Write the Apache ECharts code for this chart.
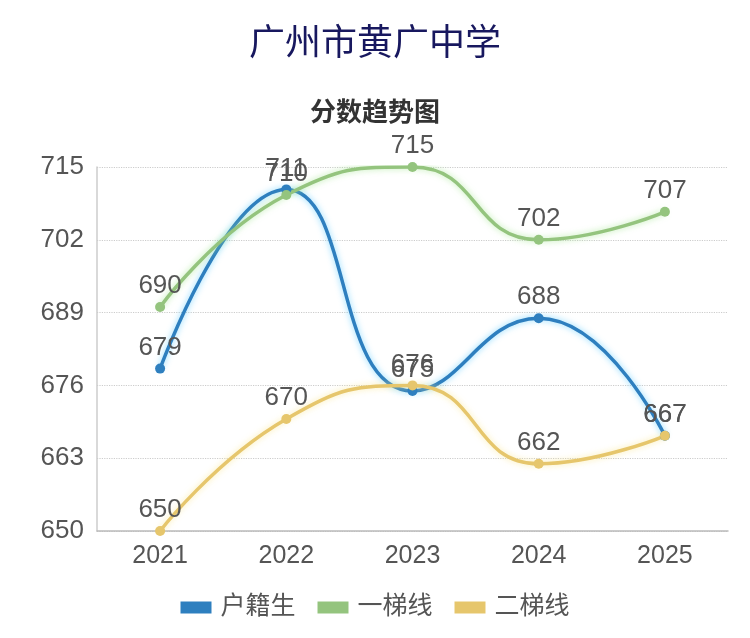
<!DOCTYPE html>
<html>
<head>
<meta charset="UTF-8">
<title>分数趋势图</title>
<script src="https://cdn.jsdelivr.net/npm/echarts@6/dist/echarts.min.js"></script>
<style>
  html, body { margin: 0; padding: 0; background: #fff; }
  #main { width: 750px; height: 638px; }
</style>
</head>
<body>
<div id="main"></div>
<script>
// 数据
var years = ['2021', '2022', '2023', '2024', '2025'];
var huji = [679, 711, 675, 688, 667];      // 户籍生
var tiXian1 = [690, 710, 715, 702, 707];   // 一梯线
var tiXian2 = [650, 670, 676, 662, 667];   // 二梯线

var font = '"Liberation Sans", "Noto Sans CJK SC", sans-serif';

function makeLine(name, data, color, glow) {
  return {
    name: name,
    type: 'line',
    smooth: true,
    data: data,
    symbol: 'circle',
    symbolSize: 10,
    itemStyle: { color: color },
    lineStyle: { width: 3.5, color: color, shadowColor: glow, shadowBlur: 6 },
    label: {
      show: true,
      position: 'top',
      distance: 3,
      color: '#555',
      fontSize: 26,
      fontFamily: font
    }
  };
}

var myChart = echarts.init(document.getElementById('main'));
myChart.setOption({
  title: [{
    text: '广州市黄广中学',
    left: 'center',
    top: 22,
    textStyle: { color: '#18185f', fontSize: 36, fontWeight: 'normal', fontFamily: font }
  }, {
    text: '分数趋势图',
    left: 'center',
    top: 96,
    textStyle: { color: '#333', fontSize: 26, fontWeight: 'bold', fontFamily: font }
  }],
  legend: {
    bottom: 13,
    left: 'center',
    itemWidth: 31,
    itemHeight: 12,
    itemGap: 22,
    icon: 'rect',
    textStyle: { color: '#555', fontSize: 25, fontFamily: font, padding: [0, 0, 0, 4] },
    data: ['户籍生', '一梯线', '二梯线']
  },
  grid: { left: 97, right: 22, top: 167, bottom: 107 },
  xAxis: {
    type: 'category',
    data: years,
    axisLine: { lineStyle: { color: '#bbb', width: 1.5 } },
    axisTick: { show: false },
    axisLabel: { color: '#555', fontSize: 25, fontFamily: font, margin: 13 }
  },
  yAxis: {
    type: 'value',
    min: 650,
    max: 715,
    interval: 13,
    axisLine: { show: true, lineStyle: { color: '#ccc', width: 1.5 } },
    axisTick: { show: false },
    axisLabel: { color: '#555', fontSize: 26, fontFamily: font, margin: 13 },
    splitLine: { lineStyle: { color: '#ccc', type: 'dotted', width: 1.2 } }
  },
  series: [
    makeLine('户籍生', huji, '#2e7fbf', 'rgba(80,200,255,0.7)'),
    makeLine('一梯线', tiXian1, '#94c47e', 'rgba(160,230,140,0.7)'),
    makeLine('二梯线', tiXian2, '#e6c66c', 'rgba(250,230,140,0.7)')
  ]
});
</script>
</body>
</html>
